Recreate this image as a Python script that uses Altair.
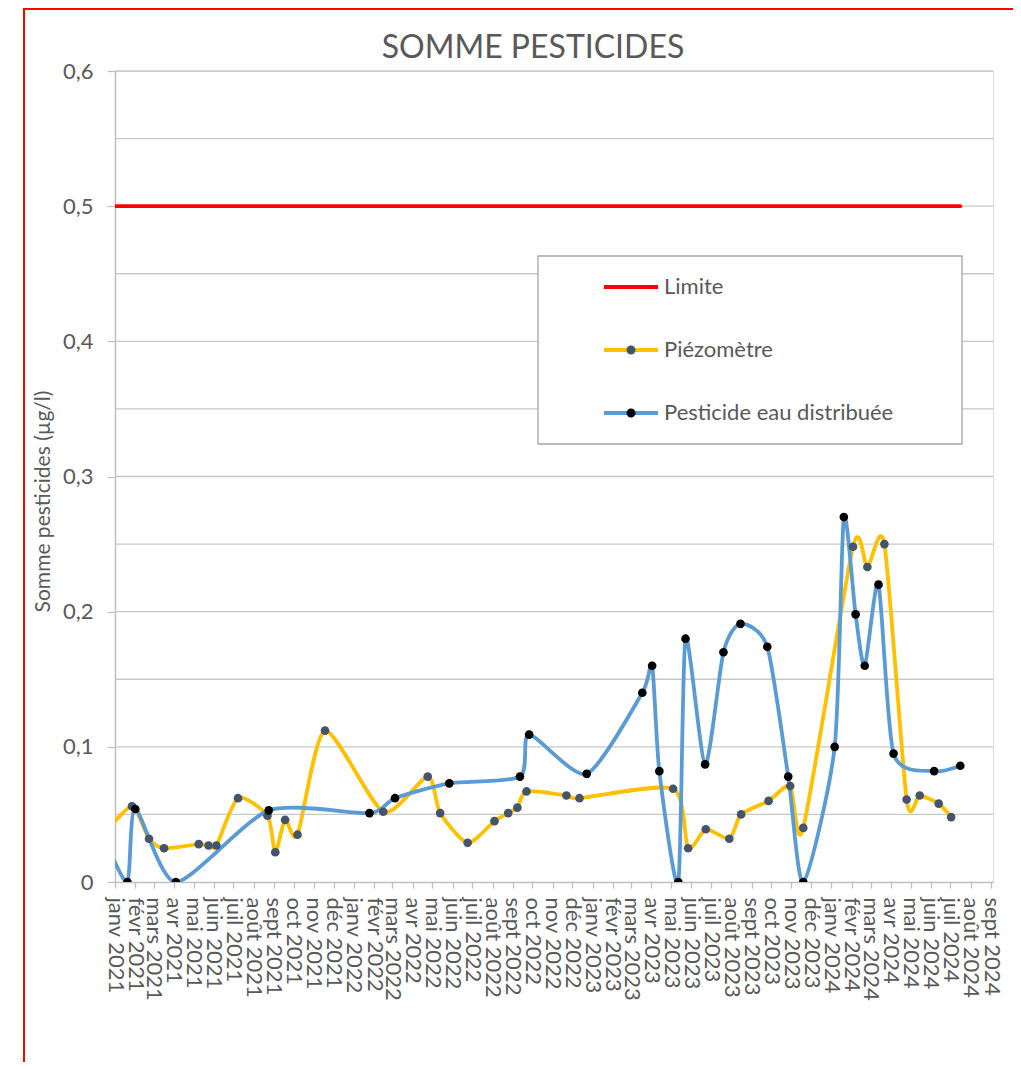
import json
import pandas as pd
import altair as alt

# ---------------- data ----------------
MONTHS_FR = ["janv", "févr", "mars", "avr", "mai", "juin",
             "juil", "août", "sept", "oct", "nov", "déc"]

SERIES = ["Limite", "Piézomètre", "Pesticide eau distribuée"]
LINE_COLORS = ["#ff0000", "#ffc000", "#5b9bd5"]
MARKER_COLORS = ["transparent", "#44546a", "#000000"]

LIMIT_DATES = ["2020-12-20", "2024-07-16"]
LIMIT_VALUES = [0.5, 0.5]

PIEZO_DATES = [
    "2020-12-15", "2021-01-27", "2021-02-22", "2021-03-17", "2021-05-09",
    "2021-05-24", "2021-06-05", "2021-07-08", "2021-08-22", "2021-09-03",
    "2021-09-18", "2021-10-07", "2021-11-18", "2022-02-15", "2022-04-24",
    "2022-05-13", "2022-06-24", "2022-08-04", "2022-08-25", "2022-09-08",
    "2022-09-22", "2022-11-22", "2022-12-12", "2023-05-04", "2023-05-27",
    "2023-06-23", "2023-07-29", "2023-08-16", "2023-09-27", "2023-10-30",
    "2023-11-19", "2024-02-03", "2024-02-25", "2024-03-22", "2024-04-25",
    "2024-05-15", "2024-06-13", "2024-07-02",
]
PIEZO_VALUES = [
    0.035, 0.056, 0.032, 0.025, 0.028,
    0.027, 0.027, 0.062, 0.049, 0.022,
    0.046, 0.035, 0.112, 0.052, 0.078,
    0.051, 0.029, 0.045, 0.051, 0.055,
    0.067, 0.064, 0.062, 0.069, 0.025,
    0.039, 0.032, 0.050, 0.060, 0.071,
    0.040, 0.248, 0.233, 0.250, 0.061,
    0.064, 0.058, 0.048,
]

DIST_DATES = [
    "2020-12-20", "2021-01-20", "2021-02-01", "2021-04-04", "2021-08-24",
    "2022-01-25", "2022-03-05", "2022-05-27", "2022-09-12", "2022-09-26",
    "2022-12-23", "2023-03-18", "2023-04-02", "2023-04-13", "2023-05-12",
    "2023-05-23", "2023-06-22", "2023-07-20", "2023-08-15", "2023-09-25",
    "2023-10-27", "2023-11-19", "2024-01-06", "2024-01-20", "2024-02-07",
    "2024-02-21", "2024-03-13", "2024-04-05", "2024-06-06", "2024-07-16",
]
DIST_VALUES = [
    0.028, 0.0, 0.054, 0.0, 0.053,
    0.051, 0.062, 0.073, 0.078, 0.109,
    0.080, 0.140, 0.160, 0.082, 0.0,
    0.180, 0.087, 0.170, 0.191, 0.174,
    0.078, 0.0, 0.100, 0.270, 0.198,
    0.160, 0.220, 0.095, 0.082, 0.086,
]

Y_TICKS = [0, 0.1, 0.2, 0.3, 0.4, 0.5, 0.6]
GRID_VALUES = [0.05, 0.1, 0.15, 0.2, 0.25, 0.3, 0.35, 0.4, 0.45, 0.5, 0.55, 0.6]

TITLE = "SOMME PESTICIDES"
Y_TITLE = "Somme pesticides (µg/l)"

# ---------------- tables ----------------
rows = []
for name, dates, vals in [("Limite", LIMIT_DATES, LIMIT_VALUES),
                          ("Piézomètre", PIEZO_DATES, PIEZO_VALUES),
                          ("Pesticide eau distribuée", DIST_DATES, DIST_VALUES)]:
    for d, v in zip(dates, vals):
        rows.append({"series": name, "date": d, "value": v})
df = pd.DataFrame(rows)
grid_df = pd.DataFrame({"g": GRID_VALUES})
one = pd.DataFrame({"k": [0]})

TEXT = "#595959"
AXIS_GRAY = "#bfbfbf"
FONT = "Lato"

x_scale = alt.Scale(type="utc", domain=[
    alt.DateTime(year=2021, month=1, date=1, utc=True),
    alt.DateTime(year=2024, month=9, date=4, utc=True)])
y_scale = alt.Scale(domain=[0, 0.6], nice=False, zero=True)

month_expr = json.dumps(MONTHS_FR, ensure_ascii=False)
x_axis = alt.Axis(
    title=None, grid=False,
    tickCount={"interval": "month", "step": 1},
    labelExpr=f"{month_expr}[utcmonth(datum.value)] + ' ' + utcyear(datum.value)",
    labelAngle=90, labelAlign="left", labelBaseline="middle",
    labelFont=FONT, labelFontSize=22, labelColor=TEXT,
    labelOverlap=False, labelFlush=False, labelPadding=9,
    tickSize=6, tickColor=AXIS_GRAY, tickWidth=1.3,
    domainColor=AXIS_GRAY, domainWidth=1.5,
)
y_axis = alt.Axis(
    title=Y_TITLE, values=Y_TICKS, grid=False,
    labelExpr="datum.value == 0 ? '0' : replace(format(datum.value, '.1f'), '.', ',')",
    labelFont=FONT, labelFontSize=22, labelColor=TEXT, labelPadding=14,
    tickSize=8, tickColor=AXIS_GRAY, tickWidth=1.3,
    domainColor=AXIS_GRAY, domainWidth=1.5,
    titleFont=FONT, titleFontSize=21, titleColor=TEXT, titleFontWeight="normal",
    titleAngle=270, titleAlign="center", titleBaseline="middle",
    titleX=-72, titleY=430,
)

LEG_X = 487
LEG_Y = 187

grid = alt.Chart(grid_df).mark_rule(color="#c8c8c8", strokeWidth=1.3).encode(
    y=alt.Y("g:Q", scale=y_scale, axis=y_axis)
)

legend_box = alt.Chart(one).mark_rect(
    fill="white", stroke="#a6a6a6", strokeWidth=1.3
).encode(
    x=alt.value(423), x2=alt.value(847), y=alt.value(185), y2=alt.value(373)
)

frame = alt.Chart(one).mark_rect(
    fillOpacity=0, stroke="#ff0000", strokeWidth=2, clip=False
).encode(
    x=alt.value(-91), x2=alt.value(1400), y=alt.value(-62), y2=alt.value(1400)
)

lines = alt.Chart(df).mark_line(
    interpolate="cardinal", tension=0.3, clip=True, strokeWidth=3.8,
    strokeCap="round", strokeJoin="round"
).encode(
    x=alt.X("date:T", scale=x_scale, axis=x_axis),
    y=alt.Y("value:Q", scale=y_scale, axis=y_axis),
    color=alt.Color(
        "series:N", sort=SERIES, scale=alt.Scale(range=LINE_COLORS),
        legend=alt.Legend(
            title=None, orient="none", legendX=LEG_X, legendY=LEG_Y,
            direction="vertical", padding=0, rowPadding=23,
            symbolType="stroke", symbolSize=2916, symbolStrokeWidth=4,
            labelFont=FONT, labelFontSize=22, labelColor=TEXT,
            labelOffset=4, labelLimit=500,
        ),
    ),
)

CIRCLE = "M0.155,0A0.155,0.155,0,1,1,-0.155,0A0.155,0.155,0,1,1,0.155,0Z"
points = alt.Chart(df).transform_filter(
    alt.datum.series != "Limite"
).mark_point(filled=True, clip=True, size=75, opacity=1).encode(
    x=alt.X("date:T", scale=x_scale, axis=x_axis),
    y=alt.Y("value:Q", scale=y_scale, axis=y_axis),
    fill=alt.Fill(
        "series:N", scale=alt.Scale(domain=SERIES, range=MARKER_COLORS),
        legend=alt.Legend(
            title=None, orient="none", legendX=LEG_X, legendY=LEG_Y,
            direction="vertical", padding=0, rowPadding=23,
            symbolType=CIRCLE, symbolSize=3364, symbolStrokeWidth=0,
            labelFont=FONT, labelFontSize=22, labelColor=TEXT,
            labelOffset=4, labelLimit=500, labelOpacity=0,
        ),
    ),
)

chart = alt.layer(frame, grid, legend_box, lines, points).properties(
    width=878, height=811,
    autosize=alt.AutoSizeParams(type="none"),
    padding={"left": 107, "top": 63, "right": 20, "bottom": 180},
    title=alt.TitleParams(
        TITLE, font=FONT, fontSize=32, color=TEXT, fontWeight="normal",
        anchor="middle", frame="group", dx=-21, dy=82, offset=0,
        baseline="alphabetic",
    ),
).configure_view(stroke=None).configure(background="white", font=FONT)

chart.save("out.html", embed_options={"renderer": "svg", "actions": False})
